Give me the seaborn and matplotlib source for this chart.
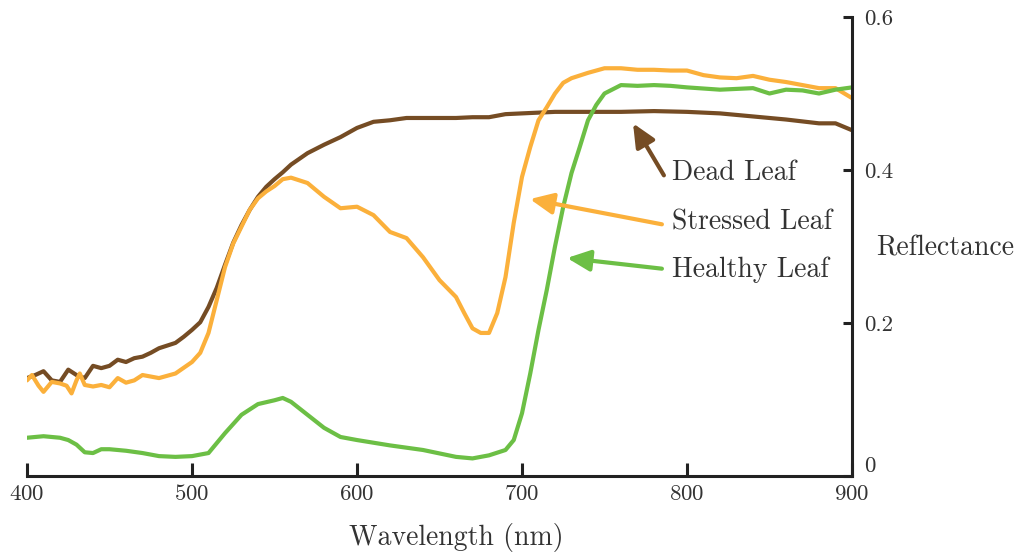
import matplotlib
matplotlib.use('Agg')
import matplotlib.pyplot as plt
import seaborn as sns
import pandas as pd

# ---------------- data ----------------
dead_wl = [400, 405, 410, 415, 420, 425, 430, 435, 440, 445, 450, 455, 460, 465, 470, 475, 480, 490,
           495, 500, 505, 510, 515, 520, 525, 530, 535, 540, 545, 550, 555, 560, 570, 580, 590, 600,
           610, 620, 630, 640, 650, 660, 670, 680, 690, 700, 720, 740, 760, 780, 800, 820, 840, 860,
           880, 890, 900]
dead = [0.128, 0.132, 0.137, 0.125, 0.123, 0.139, 0.132, 0.128, 0.144, 0.141, 0.144, 0.152, 0.149,
        0.154, 0.156, 0.161, 0.167, 0.174, 0.182, 0.191, 0.201, 0.221, 0.246, 0.276, 0.305, 0.328,
        0.348, 0.365, 0.378, 0.388, 0.397, 0.407, 0.422, 0.433, 0.443, 0.455, 0.463, 0.465, 0.468,
        0.468, 0.468, 0.468, 0.469, 0.469, 0.473, 0.474, 0.476, 0.476, 0.476, 0.477, 0.476, 0.474,
        0.470, 0.466, 0.461, 0.461, 0.452]

stressed_wl = [400, 403, 407, 410, 415, 420, 424, 427, 430, 432, 435, 440, 445, 450, 455, 460, 465,
               470, 480, 490, 500, 505, 510, 515, 520, 525, 530, 535, 540, 545, 550, 555, 560, 570,
               580, 590, 600, 610, 620, 630, 640, 650, 660, 665, 670, 675, 680, 685, 690, 695, 700,
               705, 710, 715, 720, 725, 730, 740, 750, 760, 770, 780, 790, 800, 810, 820, 830, 840,
               850, 860, 870, 880, 890, 900]
stressed = [0.125, 0.132, 0.118, 0.110, 0.123, 0.121, 0.118, 0.108, 0.125, 0.134, 0.119, 0.117,
            0.119, 0.116, 0.128, 0.122, 0.125, 0.132, 0.128, 0.134, 0.149, 0.161, 0.187, 0.230,
            0.273, 0.304, 0.326, 0.348, 0.363, 0.372, 0.379, 0.388, 0.390, 0.383, 0.365, 0.350,
            0.352, 0.341, 0.319, 0.311, 0.286, 0.256, 0.234, 0.213, 0.193, 0.187, 0.187, 0.213,
            0.260, 0.331, 0.391, 0.430, 0.465, 0.482, 0.500, 0.514, 0.520, 0.527, 0.533, 0.533,
            0.531, 0.531, 0.530, 0.530, 0.524, 0.521, 0.520, 0.523, 0.518, 0.515, 0.511, 0.507,
            0.507, 0.494]

healthy_wl = [400, 410, 420, 425, 430, 435, 440, 445, 450, 460, 470, 480, 490, 500, 510, 520, 530,
              540, 550, 555, 560, 570, 580, 590, 600, 620, 640, 660, 670, 680, 690, 695, 700, 705,
              710, 715, 720, 725, 730, 735, 740, 745, 750, 760, 770, 780, 790, 800, 820, 840, 850,
              860, 870, 880, 890, 900]
healthy = [0.050, 0.052, 0.050, 0.047, 0.041, 0.031, 0.030, 0.035, 0.035, 0.033, 0.030, 0.026,
           0.025, 0.026, 0.030, 0.056, 0.080, 0.094, 0.099, 0.102, 0.097, 0.080, 0.063, 0.051,
           0.047, 0.040, 0.034, 0.025, 0.023, 0.027, 0.034, 0.047, 0.082, 0.134, 0.191, 0.243,
           0.300, 0.352, 0.396, 0.430, 0.465, 0.485, 0.500, 0.511, 0.510, 0.511, 0.510, 0.508,
           0.505, 0.507, 0.500, 0.505, 0.504, 0.500, 0.505, 0.508]

leaf_names = ["Dead Leaf", "Stressed Leaf", "Healthy Leaf"]
leaf_colors = ["#754c24", "#fbb03b", "#6cbf45"]
x_ticks = [400, 500, 600, 700, 800, 900]
y_ticks = [0, 0.2, 0.4, 0.6]
y_tick_labels = ["0", "0.2", "0.4", "0.6"]

# ---------------- frame ----------------
df = pd.concat([
    pd.DataFrame({"wavelength": dead_wl, "reflectance": dead, "leaf": leaf_names[0]}),
    pd.DataFrame({"wavelength": stressed_wl, "reflectance": stressed, "leaf": leaf_names[1]}),
    pd.DataFrame({"wavelength": healthy_wl, "reflectance": healthy, "leaf": leaf_names[2]}),
], ignore_index=True)

sns.set_theme(style="ticks")
plt.rcParams["font.family"] = ["cmr10", "DejaVu Serif"]
plt.rcParams["axes.formatter.use_mathtext"] = True
text_color = "#333333"
spine_color = "#222222"

fig = plt.figure(figsize=(10.21, 5.54), dpi=100)
ax = fig.add_axes([27 / 1021, 78 / 554, 825 / 1021, 459 / 554])

sns.lineplot(data=df, x="wavelength", y="reflectance", hue="leaf",
             palette=dict(zip(leaf_names, leaf_colors)), estimator=None,
             linewidth=3, legend=False, ax=ax)

ax.set_xlim(400, 900)
ax.set_ylim(0, 0.6)

for s in ["top", "left"]:
    ax.spines[s].set_visible(False)
for s in ["bottom", "right"]:
    ax.spines[s].set_linewidth(2.2)
    ax.spines[s].set_color(spine_color)

ax.yaxis.tick_right()
ax.set_xticks(x_ticks)
ax.set_yticks(y_ticks)
ax.set_yticklabels(y_tick_labels)
ax.tick_params(axis="x", direction="in", length=9.5, width=2.2, color=spine_color,
               labelsize=16.5, labelcolor=text_color, pad=6)
ax.tick_params(axis="y", direction="in", length=6.5, width=2.2, color=spine_color,
               labelsize=16.5, labelcolor=text_color, pad=8.5, right=True, left=False)
ax.get_yticklabels()[0].set_verticalalignment("bottom")

ax.set_xlabel("Wavelength (nm)", fontsize=20, color=text_color)
ax.xaxis.label.set_va("center")
ax.xaxis.set_label_coords((456 - 27) / 825, (476 - 537) / 459)

ax.yaxis.set_label_position("right")
ax.set_ylabel("Reflectance", fontsize=20, color=text_color, rotation=0)
ax.yaxis.label.set_ha("left")
ax.yaxis.label.set_va("center")
ax.yaxis.set_label_coords((876 - 27) / 825, (476 - 248) / 459)

# ---------------- annotations ----------------
arrow_tails = [(786.0, 0.393), (784.8, 0.329), (784.8, 0.271)]
arrow_tips = [(767.3, 0.461), (704.8, 0.362), (727.3, 0.285)]
label_pos = [(790.9, 0.396), (790.9, 0.332), (790.9, 0.269)]

for name, col, tail, tip, lp in zip(leaf_names, leaf_colors, arrow_tails, arrow_tips, label_pos):
    ax.annotate("", xy=tip, xytext=tail,
                arrowprops=dict(arrowstyle="-|>,head_length=0.7,head_width=0.32",
                                color=col, lw=3, shrinkA=0, shrinkB=0, mutation_scale=20))
    ax.text(lp[0], lp[1], name, fontsize=20, color=text_color, ha="left", va="center")

fig.savefig("out.png", dpi=100)
